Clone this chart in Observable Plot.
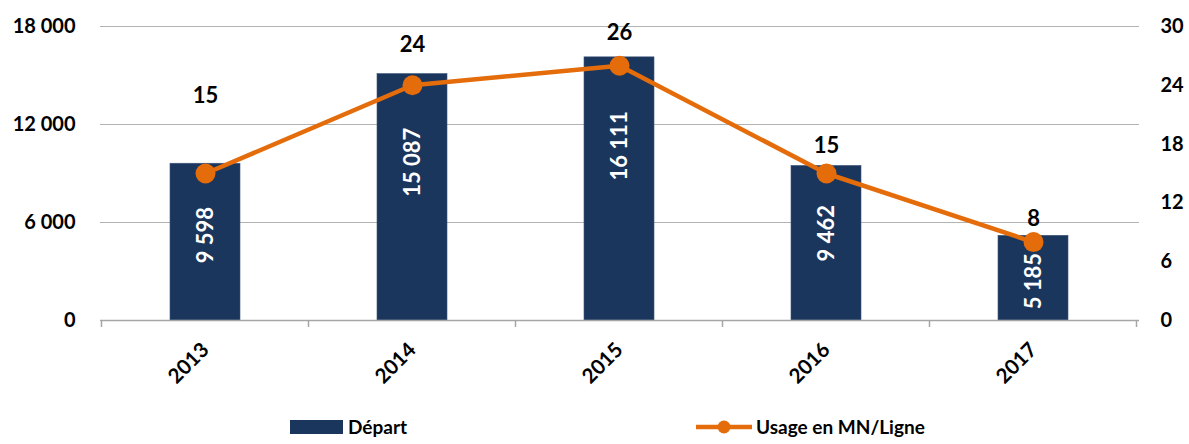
<!DOCTYPE html>
<html>
<head>
<meta charset="utf-8">
<script src="https://cdn.jsdelivr.net/npm/d3@7"></script>
<script src="https://cdn.jsdelivr.net/npm/@observablehq/plot@0.6"></script>
<style>
  html, body { margin: 0; padding: 0; background: #fff; }
  body { width: 1189px; height: 444px; overflow: hidden; font-family: Lato, "Open Sans", sans-serif; }
  #legend { position: relative; height: 34px; font-weight: bold; font-size: 19px; color: #000; }
  .item { position: absolute; top: 5px; display: flex; align-items: center; }
</style>
</head>
<body>
<div id="chart"></div>
<div id="legend">
  <div class="item" style="left:290px"><svg width="54" height="16"><rect x="0" y="1" width="53" height="14" fill="#1b365d"/></svg><span style="margin-left:4px">Départ</span></div>
  <div class="item" style="left:696px"><svg width="57" height="16"><line x1="0" y1="8" x2="56" y2="8" stroke="#e46c0a" stroke-width="4.5"/><circle cx="28" cy="8" r="6.5" fill="#e46c0a"/></svg><span style="margin-left:3px">Usage en MN/Ligne</span></div>
</div>
<script>
const years = ["2013", "2014", "2015", "2016", "2017"];
const departs = [9598, 15087, 16111, 9462, 5185];
const usage = [15, 24, 26, 15, 8];
const leftTicks = [0, 6000, 12000, 18000];
const rightTicks = [0, 6, 12, 18, 24, 30];

// styling / label placement
const NAVY = "#1b365d", ORANGE = "#e46c0a";
const leftMax = 18000, rightMax = 30, ratio = leftMax / rightMax;
const usageLabelDy = [-78, -40, -33, -28, -23];
const barLabelDy = [-7, -35, -43, -10, 3];

const data = years.map((y, i) => ({year: y, depart: departs[i], usage: usage[i], usageL: usage[i] * ratio, i}));
const fmt = d => d3.format(",")(d).replace(/,/g, " ");

const W = 1189, H = 410;
const plot = Plot.plot({
  width: W, height: H,
  marginLeft: 100, marginRight: 50, marginTop: 26, marginBottom: 90,
  style: {fontFamily: "Lato, 'Open Sans', sans-serif", fontWeight: "bold", fontSize: "20px", color: "#000", background: "#fff"},
  x: {domain: years, paddingInner: 0.66, paddingOuter: 0.33, label: null},
  y: {domain: [0, leftMax], label: null},
  marks: [
    Plot.ruleY(leftTicks.filter(d => d > 0), {stroke: "#b3b3b3", strokeWidth: 1.2}),
    Plot.barY(data, {x: "year", y: "depart", fill: NAVY, stroke: "#3c5478", strokeWidth: 0.6}),
    Plot.ruleY([0], {stroke: "#a6a6a6", strokeWidth: 1.5}),
    Plot.axisY(leftTicks, {anchor: "left", tickSize: 0, tickPadding: 25, tickFormat: fmt, fontSize: 20, fontWeight: "bold", label: null}),
    Plot.axisY(rightTicks.map(d => d * ratio), {anchor: "right", tickSize: 0, tickPadding: 21, tickFormat: d => d / ratio, fontSize: 20, fontWeight: "bold", textAnchor: "start", label: null}),
    Plot.axisX({tickSize: 0, tickRotate: -45, tickPadding: 26, fontSize: 20.5, fontWeight: "bold", label: null}),
    ...data.map((d, i) => Plot.text([d], {x: "year", y: d => d.depart / 2, text: d => fmt(d.depart), rotate: -90, fill: "#fff", fontSize: 22, fontWeight: "bold", dy: barLabelDy[i], textAnchor: "middle", lineAnchor: "middle"})),
    Plot.line(data, {x: "year", y: "usageL", stroke: ORANGE, strokeWidth: 4.5}),
    Plot.dot(data, {x: "year", y: "usageL", r: 10, fill: ORANGE}),
    ...data.map((d, i) => Plot.text([d], {x: "year", y: "usageL", text: d => String(d.usage), fontSize: 22, fontWeight: "bold", fill: "#000", dy: usageLabelDy[i], lineAnchor: "middle"}))
  ]
});
document.getElementById("chart").appendChild(plot);

// category boundary tick marks on the x axis, from the band scale
const xs = plot.scale("x"), ys = plot.scale("y");
const step = xs.step, y0 = ys.apply(0);
const bounds = years.map(y => xs.apply(y) - (step - xs.bandwidth) / 2);
bounds.push(bounds[bounds.length - 1] + step);
d3.select(plot).append("g").selectAll("line").data(bounds).join("line")
  .attr("x1", d => d).attr("x2", d => d).attr("y1", y0).attr("y2", y0 + 7)
  .attr("stroke", "#a6a6a6").attr("stroke-width", 1.5);
</script>
</body>
</html>
